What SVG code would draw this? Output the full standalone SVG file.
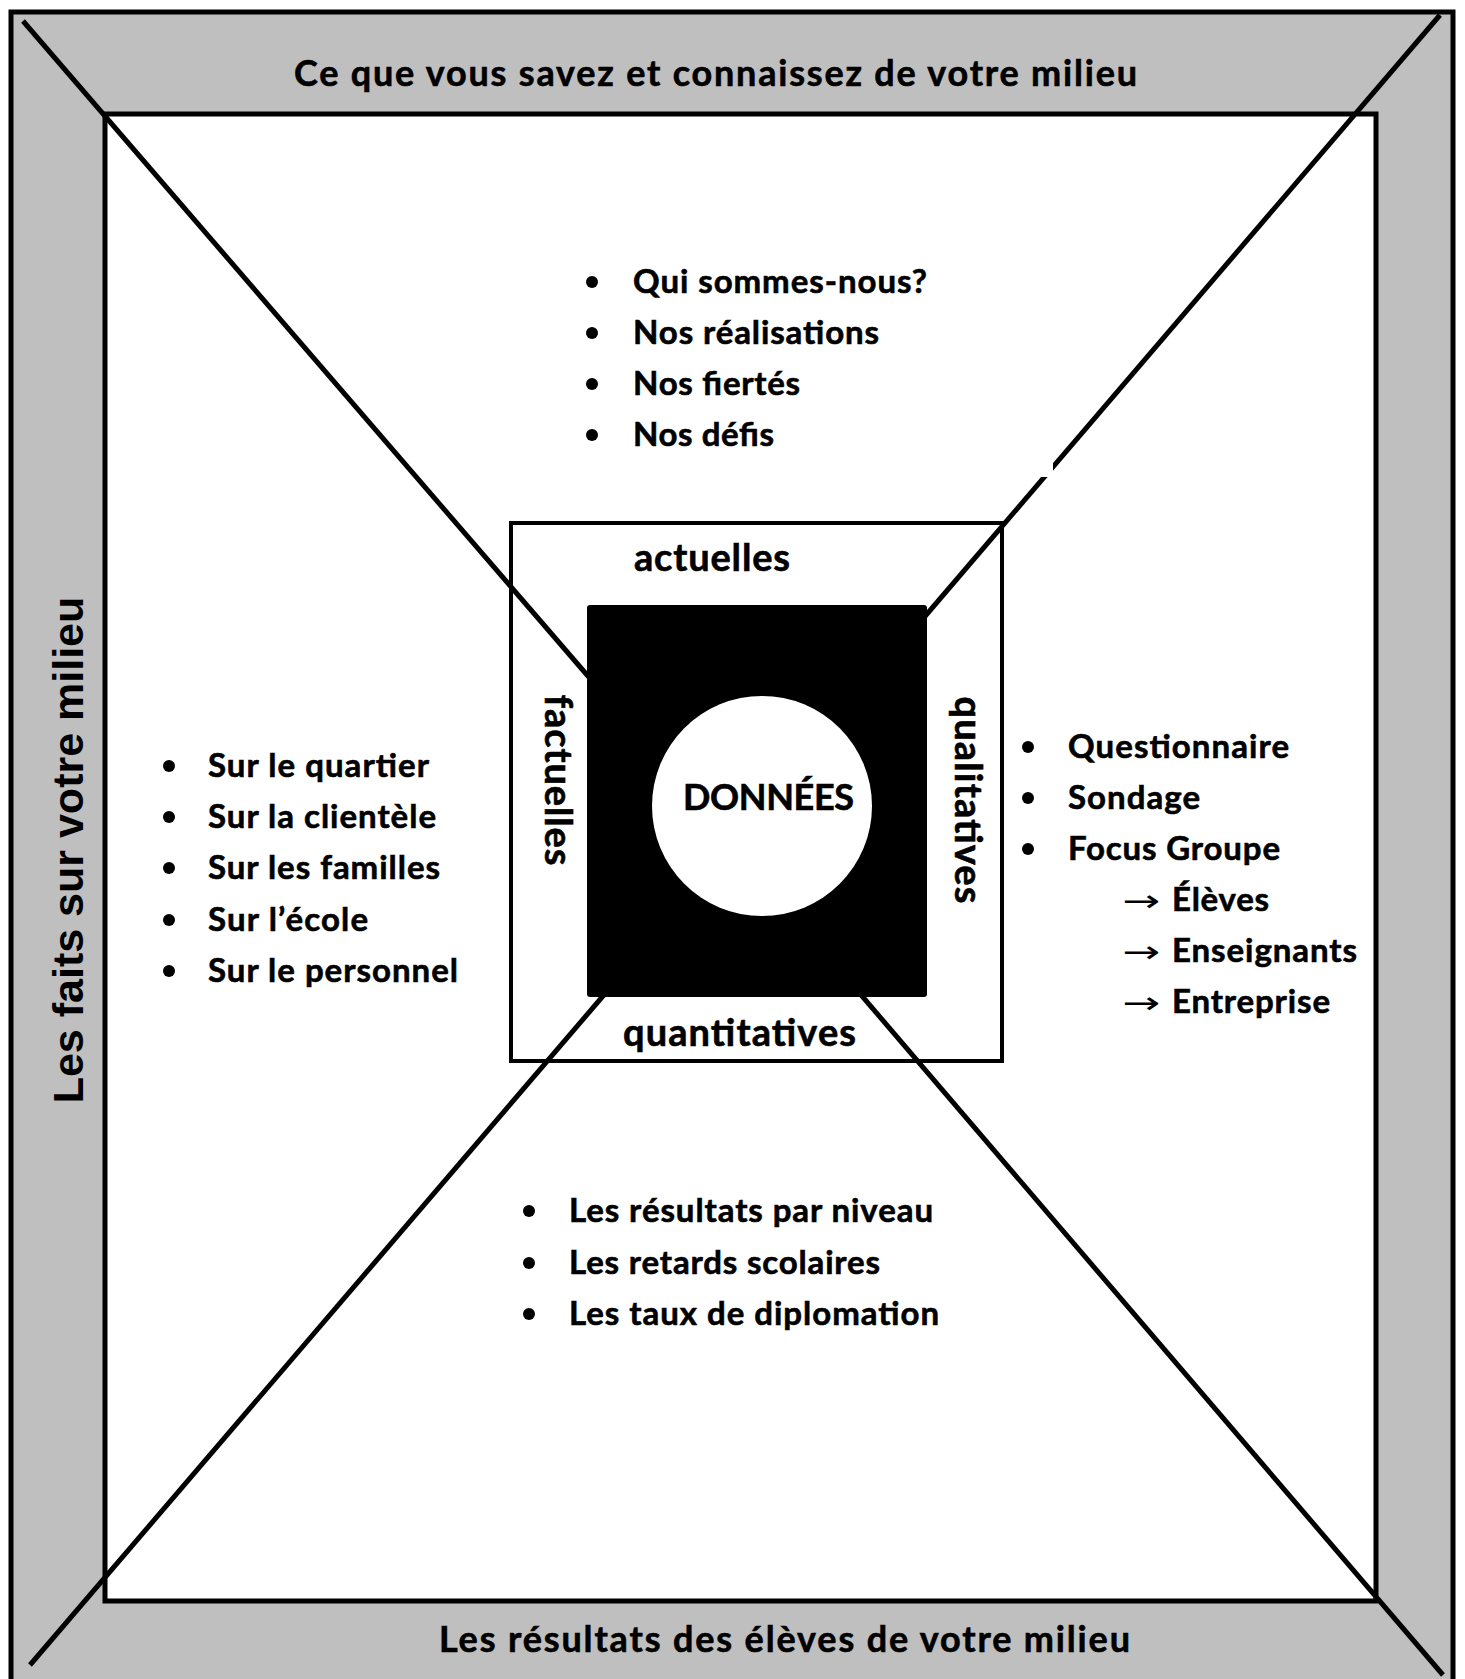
<svg xmlns="http://www.w3.org/2000/svg" width="1465" height="1679" viewBox="0 0 1465 1679">
<style>
.t{font-family:Lato,"Open Sans","Liberation Sans",sans-serif;font-weight:700;fill:#000;stroke:#000;stroke-width:0.6px}
.b{font-size:33px}
.lbl{font-size:38px}
.hd{font-size:36px}
.arr{font-family:"DejaVu Sans","Liberation Sans",sans-serif;font-size:30px;font-weight:400;fill:#000}
.ln{stroke:#000;stroke-width:5;fill:none}
.dot{fill:#000}
</style>
<rect width="1465" height="1679" fill="#fff"/>
<g id="frame">
<rect x="11" y="12" width="1442" height="1690" fill="#BFBFBF" stroke="#000" stroke-width="5"/>
<rect x="105" y="114" width="1271" height="1487" fill="#fff" stroke="#000" stroke-width="5"/>
</g>
<g id="band-top"><text class="t hd" x="294" y="86" textLength="843">Ce que vous savez et connaissez de votre milieu</text></g>
<g id="band-bottom"><text class="t hd" x="439" y="1652" textLength="691">Les résultats des élèves de votre milieu</text></g>
<g id="band-left"><text transform="translate(83,850) rotate(-90)" text-anchor="middle" font-family="'Liberation Sans',Arial,sans-serif" font-weight="700" font-size="43">Les faits sur votre milieu</text></g>
<g id="middle-box"><rect x="511" y="523" width="491" height="538" fill="#fff" stroke="#000" stroke-width="4"/></g>
<g id="connectors">
<line class="ln" x1="23" y1="21" x2="600" y2="690"/>
<line class="ln" x1="1440" y1="15" x2="915" y2="628"/>
<line class="ln" x1="30" y1="1665" x2="615" y2="982"/>
<line class="ln" x1="1443" y1="1675" x2="850" y2="982"/>
<rect x="990" y="400" width="63" height="77" fill="#fff"/>
</g>
<g id="donnees">
<rect x="587" y="605" width="340" height="392" rx="3" fill="#000"/>
<circle cx="762" cy="806" r="110" fill="#fff"/>
<text class="t" font-size="36" x="683" y="810" textLength="171">DONNÉES</text>
</g>
<g id="label-actuelles"><text class="t lbl" x="634" y="571" textLength="156">actuelles</text></g>
<g id="label-quantitatives"><text class="t lbl" x="623" y="1046" textLength="233">quantitatives</text></g>
<g id="label-factuelles"><text class="t lbl" transform="translate(545,780) rotate(90)" text-anchor="middle" textLength="171">factuelles</text></g>
<g id="label-qualitatives"><text class="t lbl" transform="translate(955,800) rotate(90)" text-anchor="middle" textLength="207">qualitatives</text></g>
<g id="list-top">
<circle class="dot" cx="592" cy="282" r="6"/><text class="t b" x="633" y="293" textLength="294">Qui sommes-nous?</text>
<circle class="dot" cx="592" cy="333" r="6"/><text class="t b" x="633" y="344" textLength="246">Nos réalisations</text>
<circle class="dot" cx="592" cy="384" r="6"/><text class="t b" x="633" y="395" textLength="167">Nos fiertés</text>
<circle class="dot" cx="592" cy="435" r="6"/><text class="t b" x="633" y="446" textLength="141">Nos défis</text>
</g>
<g id="list-left">
<circle class="dot" cx="169" cy="766" r="6"/><text class="t b" x="208" y="777" textLength="221">Sur le quartier</text>
<circle class="dot" cx="169" cy="817" r="6"/><text class="t b" x="208" y="828" textLength="228">Sur la clientèle</text>
<circle class="dot" cx="169" cy="868" r="6"/><text class="t b" x="208" y="879" textLength="232">Sur les familles</text>
<circle class="dot" cx="169" cy="920" r="6"/><text class="t b" x="208" y="931" textLength="160">Sur l’école</text>
<circle class="dot" cx="169" cy="971" r="6"/><text class="t b" x="208" y="982" textLength="250">Sur le personnel</text>
</g>
<g id="list-right">
<circle class="dot" cx="1028" cy="747" r="6"/><text class="t b" x="1068" y="758" textLength="221">Questionnaire</text>
<circle class="dot" cx="1028" cy="798" r="6"/><text class="t b" x="1068" y="809" textLength="132">Sondage</text>
<circle class="dot" cx="1028" cy="849" r="6"/><text class="t b" x="1068" y="860" textLength="212">Focus Groupe</text>
<text class="arr" x="1122" y="911" textLength="38" lengthAdjust="spacingAndGlyphs">→</text><text class="t b" x="1172" y="911" textLength="97">Élèves</text>
<text class="arr" x="1122" y="962" textLength="38" lengthAdjust="spacingAndGlyphs">→</text><text class="t b" x="1172" y="962" textLength="185">Enseignants</text>
<text class="arr" x="1122" y="1013" textLength="38" lengthAdjust="spacingAndGlyphs">→</text><text class="t b" x="1172" y="1013" textLength="158">Entreprise</text>
</g>
<g id="list-bottom">
<circle class="dot" cx="529" cy="1211" r="6"/><text class="t b" x="569" y="1222" textLength="364">Les résultats par niveau</text>
<circle class="dot" cx="529" cy="1263" r="6"/><text class="t b" x="569" y="1274" textLength="311">Les retards scolaires</text>
<circle class="dot" cx="529" cy="1314" r="6"/><text class="t b" x="569" y="1325" textLength="370">Les taux de diplomation</text>
</g>
</svg>
